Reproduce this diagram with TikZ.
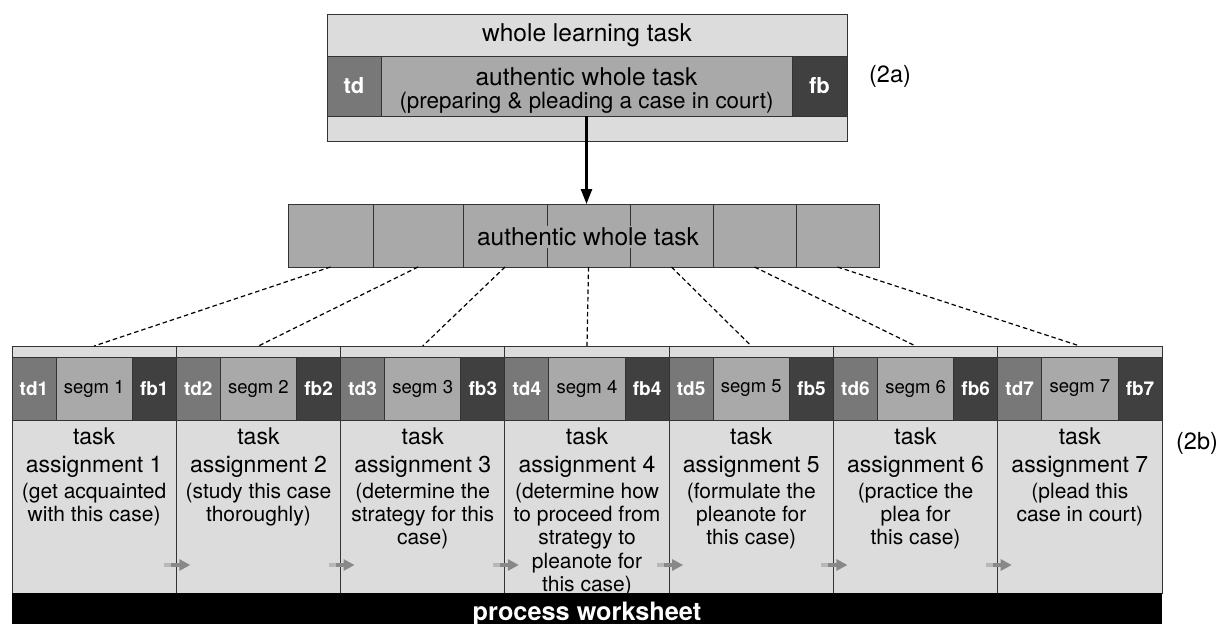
\documentclass[tikz,border=0pt]{standalone}
\usepackage{fontspec}
\setmainfont{TeX Gyre Heros}
\usetikzlibrary{arrows.meta,calc}
\definecolor{paleg}{HTML}{DCDCDC}
\definecolor{midg}{HTML}{A9A9A9}
\definecolor{tdg}{HTML}{787878}
\definecolor{fbg}{HTML}{404040}
\definecolor{edge}{HTML}{333333}
\definecolor{arrg}{HTML}{888888}
\definecolor{tailg}{HTML}{B8B8B8}
\begin{document}
\begin{tikzpicture}[x=1pt,y=-1pt,
  cell/.style={draw=edge, line width=0.8pt, inner sep=0pt, outer sep=0pt, anchor=north west},
  lbl/.style={text=white, font=\fontsize{19}{22}\selectfont\bfseries},
  seglbl/.style={font=\fontsize{18.5}{22}\selectfont},
  bigtext/.style={font=\fontsize{24.5}{28}\selectfont},
  titletext/.style={anchor=north, align=center, inner sep=0pt, font=\fontsize{23}{28}\selectfont},
  desctext/.style={anchor=north, align=center, inner sep=0pt, font=\fontsize{21}{23.3}\selectfont},
  dashline/.style={dashed, dash pattern=on 4.5pt off 3pt, line width=1.2pt},
  mainarrow/.style={line width=2.4pt, -{Triangle[length=15pt,width=11pt]}},
  tail/.style={line width=3.2pt, tailg},
  shaft/.style={line width=3.2pt, arrg, -{Triangle[length=11pt,width=11pt]}}
]
\useasboundingbox (0,0) rectangle (1219,624);

% ---- whole learning task (2a)
\node[cell, fill=paleg, minimum width=520, minimum height=42] (wlt) at (327,14) {};
\node[bigtext] at (wlt.center) {whole learning task};
\node[cell, fill=tdg, minimum width=54, minimum height=60] (tdA) at (327,56) {};
\node[text=white, font=\fontsize{22}{26}\selectfont\bfseries] at (tdA.center) {td};
\node[cell, fill=midg, minimum width=411, minimum height=60] (awt) at (381,56) {};
\node[bigtext] (awtl1) at ($(awt.center)+(0,-9)$) {authentic whole task};
\node[font=\fontsize{22.4}{26}\selectfont] (awtl2) at ($(awt.center)+(0,17)$)
  {(preparing \& pleading a case in court)};
\node[cell, fill=fbg, minimum width=55, minimum height=60] (fbA) at (792,56) {};
\node[text=white, font=\fontsize{22}{26}\selectfont\bfseries] at (fbA.center) {fb};
\node[cell, fill=paleg, minimum width=520, minimum height=25] (wltb) at (327,116) {};
\node[font=\fontsize{23.5}{28}\selectfont] (lab2a) at (890,76) {(2a)};

% ---- segmented whole task
\foreach \i/\a/\b in {1/288/373, 2/373/463, 3/463/547, 4/547/630,
                      5/630/713, 6/713/796, 7/796/879}
  \node[cell, fill=midg, minimum width=\b-\a, minimum height=63] (b\i) at (\a,204) {};
\node[bigtext, fill=midg, inner xsep=3pt, inner ysep=2pt] (awtB) at (588,237) {authentic whole task};

\draw[mainarrow] (awt.south) -- (awt.south |- b4.north);

% ---- task assignments (2b)
\foreach \i/\desc in {
  1/{(get acquainted\\with this case)},
  2/{(study this case\\thoroughly)},
  3/{(determine the\\strategy for this\\case)},
  4/{(determine how\\to proceed from\\strategy to\\pleanote for\\this case)},
  5/{(formulate the\\pleanote for\\this case)},
  6/{(practice the\\plea for\\this case)},
  7/{(plead this\\case in court)}}
{
  \pgfmathsetmacro\L{12+(\i-1)*164.286}
  \node[cell, fill=paleg, minimum width=164.286, minimum height=11] (s\i) at (\L,346) {};
  \node[cell, fill=tdg, minimum width=44, minimum height=63] (td\i) at (\L,357) {};
  \node[cell, fill=midg, minimum width=76.286, minimum height=63] (sg\i) at (\L+44,357) {};
  \node[cell, fill=fbg, minimum width=44, minimum height=63] (fb\i) at (\L+120.286,357) {};
  \node[lbl] at (td\i.center) {td\i};
  \node[seglbl] at (sg\i.center) {segm \i};
  \node[lbl] at (fb\i.center) {fb\i};
  \node[cell, fill=paleg, minimum width=164.286, minimum height=173] (body\i) at (\L,420) {};
  \node[titletext] (ttl\i) at ($(body\i.north)+(0,8)$) {task\\assignment \i};
  \node[desctext] (dsc\i) at ($(ttl\i.south)+(0,4.5)$) {\desc};
  \draw[dashline] (b\i.south) -- (s\i.north);
}

% ---- hand-over arrows between assignments
\foreach \i in {1,...,6}
{
  \coordinate (h\i) at ($(body\i.south east)+(0,-28)$);
  \draw[tail] ([xshift=-12pt]h\i) -- ([xshift=-4pt]h\i);
  \draw[shaft] ([xshift=-5pt]h\i) -- ([xshift=14pt]h\i);
}

\node[font=\fontsize{23.5}{28}\selectfont] (lab2b) at (1197,443) {(2b)};

% ---- process worksheet
\node[cell, draw=none, fill=black, minimum width=1150, minimum height=40] (pw) at (12,593) {};
\node[anchor=base, text=white, font=\fontsize{25.3}{29}\selectfont\bfseries] (pwt) at (587,620) {process worksheet};
\end{tikzpicture}
\end{document}
